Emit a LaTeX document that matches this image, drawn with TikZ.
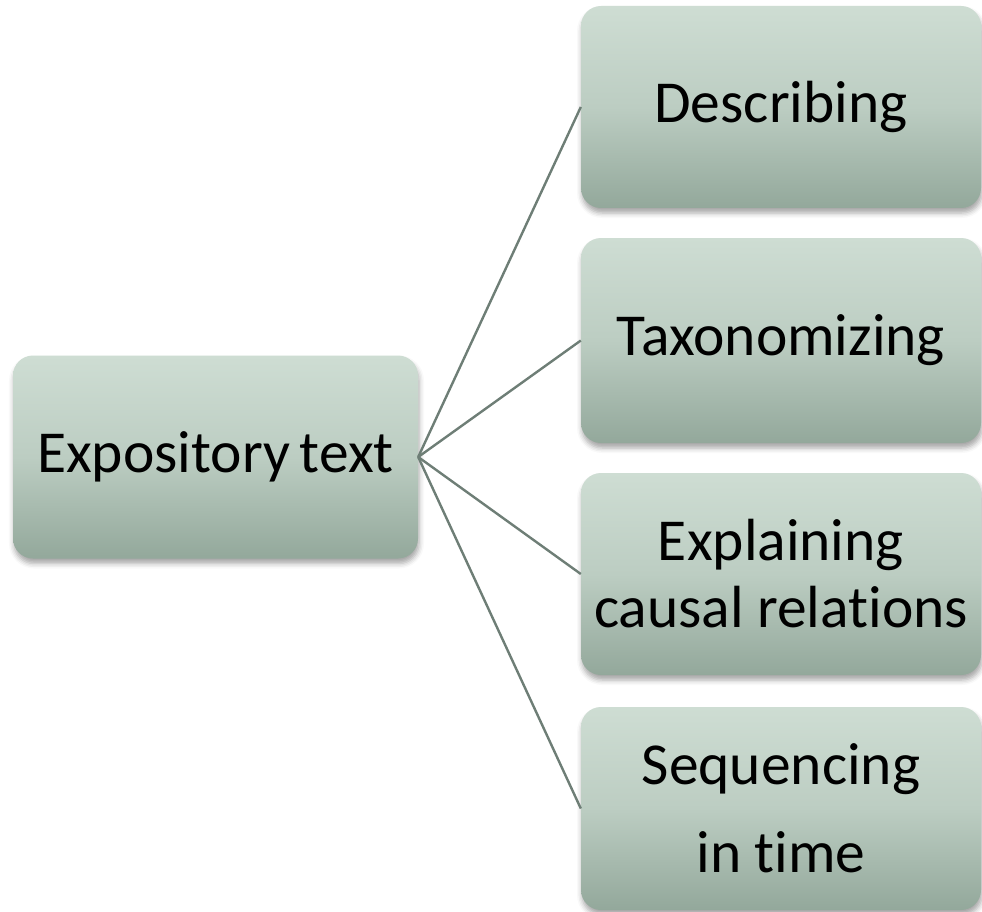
\documentclass[tikz,border=0pt]{standalone}
\usepackage{fontspec}
\setmainfont{Carlito}[Ligatures=NoCommon]
\usetikzlibrary{shadows.blur}
\definecolor{boxtop}{HTML}{CEDDD3}
\definecolor{boxmid}{HTML}{BCCDC2}
\definecolor{boxbot}{HTML}{93A89B}
\definecolor{linkcol}{HTML}{6E7E76}
\begin{document}
\begin{tikzpicture}[x=1pt,y=-1pt,
  box/.style={rounded corners=20pt, top color=boxtop, bottom color=boxbot, middle color=boxmid,
    draw=none, align=center, inner sep=0pt,
    font=\fontsize{59.5}{67}\selectfont,
    blur shadow={shadow xshift=1pt, shadow yshift=-5pt, shadow blur radius=5pt, shadow opacity=35}},
  link/.style={draw=linkcol, line width=2.4pt}]
\useasboundingbox (0,0) rectangle (982,912);
\node[box, minimum width=405pt, minimum height=203pt] (root) at (215.5,457) {Expository\,text};
\node[box, minimum width=400pt, minimum height=202pt] (d) at (781,107) {Describing};
\node[box, minimum width=400pt, minimum height=205pt] (t) at (781,340.5) {Taxonomizing};
\node[box, minimum width=400pt, minimum height=202pt] (e) at (781,574) {Explaining\\causal relations};
\node[box, minimum width=400pt, minimum height=203pt, font=\fontsize{59.5}{88}\selectfont] (s) at (781,808.5) {Sequencing\\in time};
\draw[link] (root.east) -- (d.west);
\draw[link] (root.east) -- (t.west);
\draw[link] (root.east) -- (e.west);
\draw[link] (root.east) -- (s.west);
\end{tikzpicture}
\end{document}
